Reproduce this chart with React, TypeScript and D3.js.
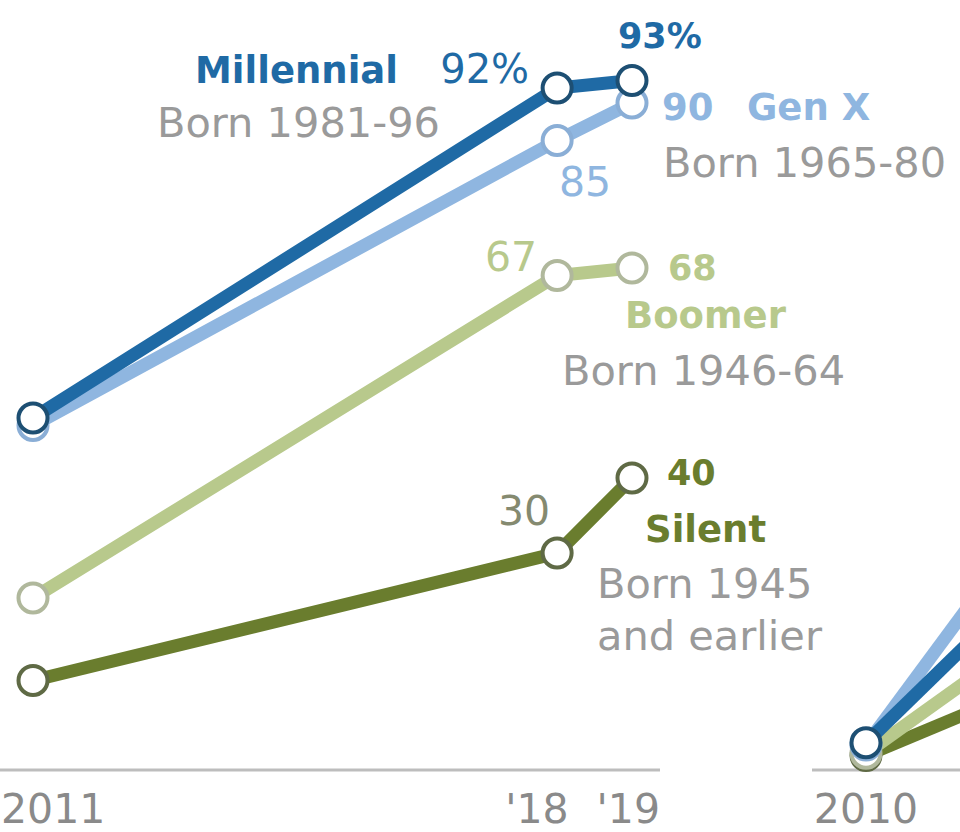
import React from "react";
import * as d3 from "d3";

// ---- data (left panel) ----
const years = [2011, 2018, 2019];
const millennial = [48, 92, 93];
const genX = [47, 85, 90];
const boomer = [24, 67, 68];
const silent = [13, 30, 40];

// ---- data (right panel, partially visible) ----
const years2 = [2010, 2012];
const millennial2 = [4.7, 22];
const genX2 = [4.4, 28.4];
const boomer2 = [3.3, 16];
const silent2 = [3, 10.4];

const tickLabelsLeft = ["2011", "'18", "'19"];
const tickLabelsRight = ["2010"];

const W = 960;
const H = 832;

const C = {
  mil: "#1f6aa5",
  milStroke: "#1d4f73",
  genx: "#8fb6e0",
  genxStroke: "#8aaed6",
  boom: "#b8c98c",
  boomStroke: "#b0b89c",
  sil: "#6a7d2e",
  silStroke: "#5f6a45",
  gray: "#9a9a9a",
  axis: "#bdbdbd",
  tick: "#8a8a8a",
};

const REG = "'DejaVu Sans', sans-serif";

export default function App() {
  const xL = d3.scaleLinear().domain([2011, 2019]).range([33, 632]);
  const xR = d3.scaleLinear().domain([2010, 2019]).range([866, 1465]);
  const y = d3.scaleLinear().domain([0, 100]).range([778, 28]);

  const series = [
    { v: silent, v2: silent2, c: C.sil, s: C.silStroke },
    { v: boomer, v2: boomer2, c: C.boom, s: C.boomStroke },
    { v: genX, v2: genX2, c: C.genx, s: C.genxStroke },
    { v: millennial, v2: millennial2, c: C.mil, s: C.milStroke },
  ];

  const lineL = d3
    .line<number>()
    .x((_, i) => xL(years[i]))
    .y((d) => y(d));
  const lineR = d3
    .line<number>()
    .x((_, i) => xR(years2[i]))
    .y((d) => y(d));

  const reg = (size = 42) => ({ fontFamily: REG, fontSize: size });
  const bold = (size = 37) => ({ fontFamily: REG, fontSize: size, fontWeight: 700 });

  return (
    <svg
      width={W}
      height={H}
      viewBox={`0 0 ${W} ${H}`}
      style={{ position: "absolute", left: 0, top: 0, background: "#fff" }}
    >
      <rect x={0} y={0} width={W} height={H} fill="#fff" />
      {/* axes */}
      <line x1={-30} x2={660} y1={770} y2={770} stroke={C.axis} strokeWidth={3} />
      <line x1={812} x2={990} y1={770} y2={770} stroke={C.axis} strokeWidth={3} />

      {/* right panel lines */}
      {series.map((s, i) => (
        <path key={"r" + i} d={lineR(s.v2) || ""} fill="none" stroke={s.c} strokeWidth={13} />
      ))}
      {series.map((s, i) => (
        <circle
          key={"rc" + i}
          cx={xR(years2[0])}
          cy={y(s.v2[0])}
          r={14.5}
          fill="#fff"
          stroke={s.s}
          strokeWidth={4}
        />
      ))}

      {/* left panel lines */}
      {series.map((s, i) => (
        <g key={"l" + i}>
          <path d={lineL(s.v) || ""} fill="none" stroke={s.c} strokeWidth={13} />
          {s.v.map((d, j) => (
            <circle
              key={j}
              cx={xL(years[j])}
              cy={y(d)}
              r={14.5}
              fill="#fff"
              stroke={s.s}
              strokeWidth={4}
            />
          ))}
        </g>
      ))}

      {/* tick labels */}
      <text x={1} y={823} fill={C.tick} style={reg(41)}>
        {tickLabelsLeft[0]}
      </text>
      <text x={xL(years[1]) - 52} y={823} fill={C.tick} style={reg(41)}>
        {tickLabelsLeft[1]}
      </text>
      <text x={xL(years[2]) + 28} y={823} fill={C.tick} textAnchor="end" style={reg(41)}>
        {tickLabelsLeft[2]}
      </text>
      <text x={xR(years2[0])} y={823} fill={C.tick} textAnchor="middle" style={reg(41)}>
        {tickLabelsRight[0]}
      </text>

      {/* Millennial labels */}
      <text x={398} y={83} fill={C.mil} textAnchor="end" style={bold(37)}>
        Millennial
      </text>
      <text x={440} y={137} fill={C.gray} textAnchor="end" style={reg(41.5)}>
        Born 1981-96
      </text>
      <text x={xL(2018) - 28} y={y(millennial[1]) - 5} fill={C.mil} textAnchor="end" style={reg(40)}>
        {millennial[1]}%
      </text>
      <text x={xL(2019) - 14} y={y(millennial[2]) - 33} fill={C.mil} style={bold(35)}>
        {millennial[2]}%
      </text>

      {/* Gen X labels */}
      <text x={xL(2018) + 28} y={y(genX[1]) + 55} fill={C.genx} textAnchor="middle" style={reg(41)}>
        {genX[1]}
      </text>
      <text x={xL(2019) + 30} y={120} fill={C.genx} style={bold(37)}>
        {genX[2]}
      </text>
      <text x={747} y={120} fill={C.genx} style={bold(37)}>
        Gen X
      </text>
      <text x={663} y={177} fill={C.gray} style={reg(41.5)}>
        Born 1965-80
      </text>

      {/* Boomer labels */}
      <text x={xL(2018) - 20} y={y(boomer[1]) - 5} fill={C.boom} textAnchor="end" style={reg(41)}>
        {boomer[1]}
      </text>
      <text x={xL(2019) + 36} y={y(boomer[2]) + 12} fill={C.boom} style={bold(35)}>
        {boomer[2]}
      </text>
      <text x={625} y={328} fill={C.boom} style={bold(37)}>
        Boomer
      </text>
      <text x={562} y={385} fill={C.gray} style={reg(41.5)}>
        Born 1946-64
      </text>

      {/* Silent labels */}
      <text x={xL(2018) - 7} y={y(silent[1]) - 28} fill="#858a70" textAnchor="end" style={reg(41)}>
        {silent[1]}
      </text>
      <text x={xL(2019) + 35} y={y(silent[2]) + 7} fill={C.sil} style={bold(35)}>
        {silent[2]}
      </text>
      <text x={645} y={542} fill={C.sil} style={bold(37)}>
        Silent
      </text>
      <text x={597} y={598} fill={C.gray} style={reg(41.5)}>
        Born 1945
      </text>
      <text x={597} y={650} fill={C.gray} style={reg(41.5)}>
        and earlier
      </text>
    </svg>
  );
}
